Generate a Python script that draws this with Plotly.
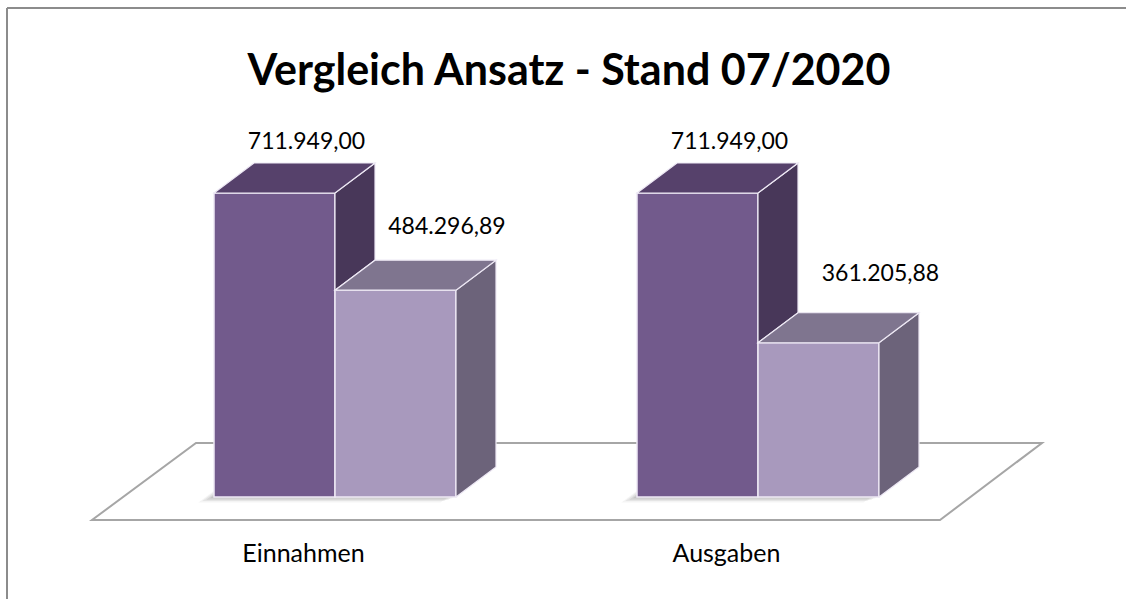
import plotly.graph_objects as go

# ---------------- data ----------------
categories = ["Einnahmen", "Ausgaben"]
series_names = ["Ansatz", "Stand 07/2020"]
ansatz = [711949.00, 711949.00]
stand = [484296.89, 361205.88]
title_text = "Vergleich Ansatz - Stand 07/2020"

# ---------------- geometry (pixel based scale) ----------------
W, H = 1126, 599
Y0 = 497                      # pixel row of value 0
PX_PER_VAL = 304 / 711949     # vertical scale
CX0 = 335                     # pixel column of first category centre
PX_PER_CAT = 423              # pixels between categories


def xu(px):
    return px / PX_PER_CAT


def yu(px):
    return px / PX_PER_VAL


x_range = [-CX0 / PX_PER_CAT, (W - CX0) / PX_PER_CAT]
y_range = [-(H - Y0) / PX_PER_VAL, Y0 / PX_PER_VAL]

BW = xu(121)          # bar width
DX, DY = xu(40), yu(30)   # 3D depth offset

front_cols = ["#725A8C", "#A899BD"]
top_cols = ["#56416B", "#7F758F"]
side_cols = ["#483759", "#6C637A"]
edge_col = "rgba(238,233,245,1)"


def de(v):
    s = f"{v:,.2f}"
    return s.replace(",", "X").replace(".", ",").replace("X", ".")


def path(pts):
    return "M " + " L ".join(f"{x:.6f},{y:.3f}" for x, y in pts) + " Z"


fig = go.Figure()

series = [ansatz, stand]
offsets = [-BW, 0.0]
xs = list(range(len(categories)))

shapes = []
# floor
fl_front = yu(-23)
fl_back = yu(54)
x_first, x_last = xs[0], xs[-1]
floor = [
    (x_first + xu(92 - CX0), fl_front),
    (x_last + xu(940 - CX0 - PX_PER_CAT), fl_front),
    (x_last + xu(1042 - CX0 - PX_PER_CAT), fl_back),
    (x_first + xu(196 - CX0), fl_back),
]
shapes.append(dict(type="path", path=path(floor), xref="x", yref="y", layer="below",
                   fillcolor="white", line=dict(color="#A6A6A6", width=2)))

# soft shadows under each group
for i in xs:
    L = i - BW
    R = i + BW
    for k, op in [(3, 0.10), (6, 0.10), (9, 0.08), (12, 0.06)]:
        sx = xu(-k * 1.3)
        sy = yu(-k * 0.45)
        poly = [(L + sx, sy), (R + sx, sy), (R + DX + sx, DY + sy), (L + DX + sx, DY + sy)]
        shapes.append(dict(type="path", path=path(poly), xref="x", yref="y", layer="below",
                           fillcolor=f"rgba(60,60,60,{op})", line=dict(width=0)))

# front faces as bars
for j, (vals, name) in enumerate(zip(series, series_names)):
    fig.add_trace(go.Bar(
        x=xs, y=vals, name=name, width=BW, offset=offsets[j],
        marker=dict(color=front_cols[j], line=dict(color=edge_col, width=1.5)),
        hoverinfo="skip", showlegend=False,
    ))

# 3D faces
for i in xs:
    for j, vals in enumerate(series):
        v = vals[i]
        L = i + offsets[j]
        R = L + BW
        top = [(L, v), (L + DX, v + DY), (R + DX, v + DY), (R, v)]
        if j + 1 < len(series):
            lower = min(series[j + 1][i], v)
        else:
            lower = 0
        side = [(R, v), (R + DX, v + DY), (R + DX, lower + DY), (R, lower)]
        shapes.append(dict(type="path", path=path(side), xref="x", yref="y", layer="above",
                           fillcolor=side_cols[j], line=dict(color=edge_col, width=1.2)))
        shapes.append(dict(type="path", path=path(top), xref="x", yref="y", layer="above",
                           fillcolor=top_cols[j], line=dict(color=edge_col, width=1.2)))

# value labels (text trace)
vmax = max(max(s) for s in series)
lx, ly, lt = [], [], []
for i in xs:
    for j, vals in enumerate(series):
        v = vals[i]
        hdiff = (vmax - v) * PX_PER_VAL
        lx.append(i + offsets[j] + BW / 2 + xu(32 + 0.2 * hdiff))
        ly.append(v + yu(50 + 0.12 * hdiff))
        lt.append(de(v))
fig.add_trace(go.Scatter(x=lx, y=ly, text=lt, mode="text", textposition="middle center",
                         textfont=dict(family="Lato", size=23, color="#000000"),
                         hoverinfo="skip", showlegend=False, cliponaxis=False))

# category labels (text trace)
fig.add_trace(go.Scatter(x=[i - xu(31.5) for i in xs], y=[yu(Y0 - 556)] * len(xs), text=categories,
                         mode="text", textposition="middle center",
                         textfont=dict(family="Lato", size=25, color="#000000"),
                         hoverinfo="skip", showlegend=False, cliponaxis=False))

# outer frame (top and left edges)
shapes.append(dict(type="line", xref="paper", yref="paper", x0=7 / W, x1=1, y0=1 - 8 / H, y1=1 - 8 / H,
                   line=dict(color="#8C8C8C", width=2)))
shapes.append(dict(type="line", xref="paper", yref="paper", x0=7 / W, x1=7 / W, y0=0, y1=1 - 8 / H,
                   line=dict(color="#8C8C8C", width=2)))

fig.update_layout(
    width=W, height=H,
    margin=dict(l=0, r=0, t=0, b=0),
    title=dict(text=f"<b>{title_text}</b>", x=569 / W, xanchor="center", xref="paper",
               y=1 - 70 / H, yanchor="middle", yref="container",
               font=dict(family="Lato", size=43, color="#000000")),
    paper_bgcolor="white", plot_bgcolor="rgba(0,0,0,0)",
    barmode="overlay",
    xaxis=dict(range=x_range, visible=False, fixedrange=True),
    yaxis=dict(range=y_range, visible=False, fixedrange=True),
    shapes=shapes,
    showlegend=False,
)

fig.write_html(
    "out.html",
    config={"displayModeBar": False},
    post_script="document.body.style.margin='0';document.body.style.overflow='hidden';"
                "document.documentElement.style.overflow='hidden';",
)
